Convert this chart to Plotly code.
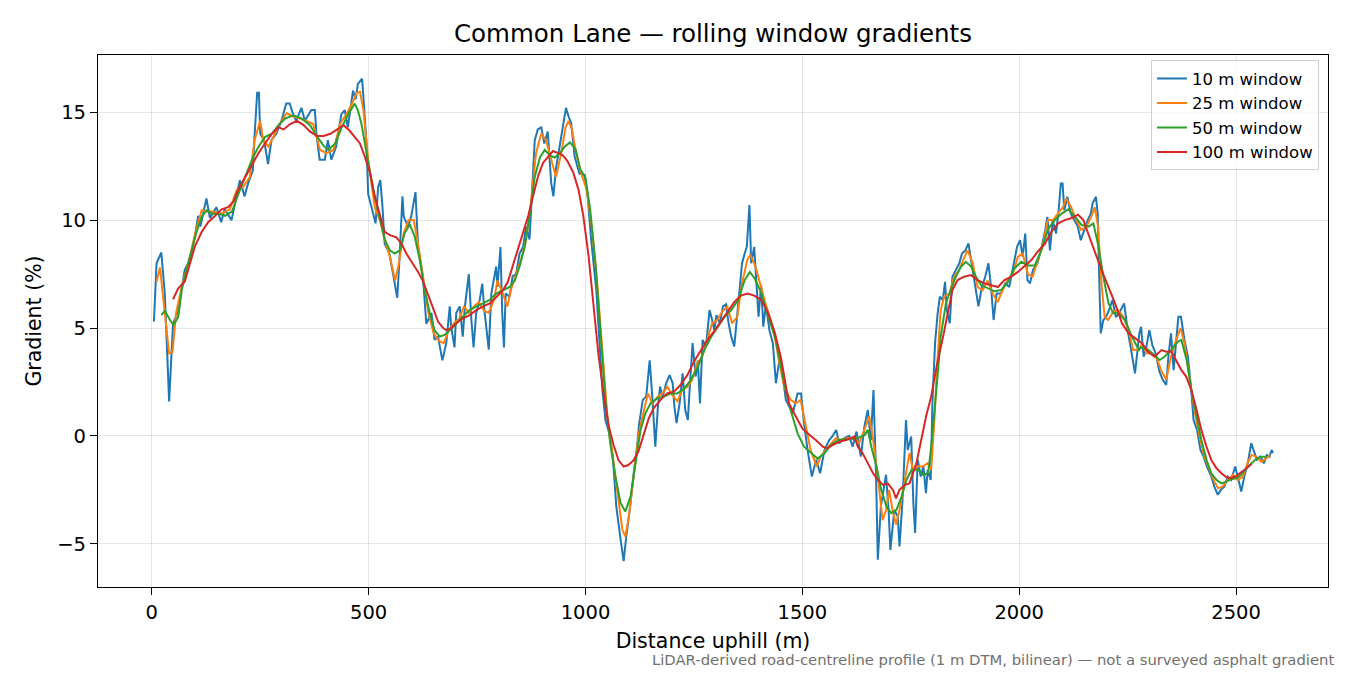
import plotly.graph_objects as go

# distance uphill (m) / gradient (%), one pair of lists per window
dist_10 = [5, 11, 22, 30, 40, 49, 61, 72, 76, 88, 99, 107, 112, 126, 134, 149, 160, 168, 184, 203,
           214, 222, 233, 237, 243, 247, 250, 259, 268, 276, 287, 299, 310, 318, 326, 333, 345, 353, 368, 376,
           380, 387, 399, 406, 414, 425, 437, 445, 452, 464, 470, 475, 485, 489, 495, 499, 506, 516, 522, 527,
           532, 537, 548, 556, 566, 571, 578, 581, 591, 598, 605, 608, 614, 625, 633, 645, 652, 660, 670, 679,
           687, 690, 698, 702, 710, 717, 722, 731, 737, 742, 748, 756, 762, 767, 777, 783, 794, 797, 804, 808,
           812, 816, 825, 832, 840, 848, 856, 863, 871, 877, 883, 890, 898, 905, 913, 921, 926, 932, 940, 948,
           955, 961, 967, 975, 986, 998, 1005, 1013, 1025, 1032, 1039, 1046, 1055, 1063, 1071, 1081, 1088, 1094, 1103, 1111,
           1118, 1124, 1132, 1140, 1148, 1154, 1161, 1167, 1172, 1178, 1186, 1194, 1201, 1205, 1210, 1217, 1224, 1230, 1236, 1241,
           1247, 1254, 1259, 1264, 1270, 1278, 1286, 1292, 1297, 1302, 1310, 1317, 1324, 1330, 1336, 1343, 1349, 1355, 1361, 1367,
           1372, 1378, 1382, 1389, 1395, 1399, 1405, 1410, 1416, 1424, 1432, 1439, 1447, 1451, 1462, 1478, 1489, 1497, 1505, 1512,
           1522, 1532, 1541, 1551, 1562, 1570, 1578, 1585, 1597, 1608, 1616, 1625, 1635, 1643, 1651, 1658, 1664, 1670, 1674, 1681,
           1693, 1699, 1703, 1712, 1720, 1724, 1731, 1739, 1743, 1751, 1756, 1760, 1766, 1773, 1779, 1785, 1789, 1796, 1800, 1806,
           1812, 1817, 1824, 1829, 1833, 1840, 1846, 1854, 1862, 1868, 1876, 1883, 1891, 1899, 1906, 1914, 1922, 1929, 1935, 1941,
           1948, 1958, 1968, 1977, 1986, 1995, 2002, 2008, 2014, 2019, 2025, 2032, 2042, 2052, 2060, 2065, 2071, 2077, 2085, 2091,
           2096, 2100, 2104, 2111, 2119, 2127, 2135, 2142, 2150, 2158, 2165, 2169, 2177, 2181, 2184, 2188, 2194, 2200, 2207, 2215,
           2223, 2230, 2242, 2250, 2257, 2267, 2277, 2281, 2287, 2292, 2300, 2307, 2315, 2323, 2331, 2339, 2344, 2350, 2356, 2361,
           2367, 2373, 2381, 2389, 2396, 2402, 2410, 2418, 2425, 2433, 2443, 2450, 2458, 2465, 2473, 2481, 2489, 2498, 2505, 2512,
           2519, 2527, 2535, 2541, 2548, 2556, 2564, 2571, 2577, 2582, 2585]
grad_10 = [5.3, 8.0, 8.5, 6.6, 1.6, 5.2, 5.8, 7.2, 7.7, 8.15, 9.2, 10.2, 9.7, 11.0, 10.1, 10.6, 9.9, 10.5, 10.0, 11.85,
           11.1, 11.7, 12.3, 13.9, 15.9, 15.9, 14.0, 13.7, 12.6, 13.7, 14.0, 14.6, 15.4, 15.4, 14.9, 14.6, 15.2, 14.6, 15.1, 15.1,
           13.9, 12.8, 12.8, 13.7, 12.8, 13.4, 14.9, 15.1, 14.3, 16.0, 15.6, 16.3, 16.55, 15.4, 13.55, 11.2, 10.6, 9.85, 11.55, 11.85,
           10.6, 8.9, 8.45, 7.5, 6.4, 8.15, 11.1, 10.15, 9.7, 10.15, 11.1, 11.3, 8.75, 7.4, 5.2, 5.7, 4.45, 4.6, 3.5, 4.3,
           6.0, 5.1, 4.1, 5.7, 6.0, 4.6, 6.0, 7.5, 5.35, 4.1, 5.7, 6.3, 7.05, 5.8, 4.0, 6.6, 7.85, 6.9, 8.75, 5.7,
           4.1, 6.6, 6.45, 7.4, 7.5, 8.45, 8.75, 9.7, 9.1, 11.2, 13.7, 14.2, 14.3, 13.55, 14.1, 11.7, 11.1, 12.4, 13.4, 14.4,
           15.2, 14.8, 14.5, 12.95, 12.15, 12.1, 11.1, 9.1, 6.75, 4.45, 2.13, 0.74, 0.12, -0.96, -3.27, -4.8, -5.8, -4.66, -3.27, -1.73,
           -0.65, 0.59, 1.67, 1.82, 3.5, 1.82, -0.5, 1.36, 2.28, 1.82, 2.44, 2.82, 2.44, 1.36, 0.59, 1.51, 2.9, 1.2, 0.74, 2.44,
           4.3, 2.75, 3.5, 1.51, 4.45, 4.14, 5.83, 5.37, 4.9, 5.6, 5.22, 6.0, 6.1, 5.22, 4.6, 4.14, 5.52, 6.76, 8.0, 8.45,
           8.76, 10.7, 8.0, 8.76, 6.76, 5.52, 7.0, 5.06, 6.1, 4.9, 4.3, 2.44, 3.5, 3.37, 1.67, 1.05, 1.97, 1.97, 0.43, -0.65,
           -1.88, -1.1, -1.73, -0.65, -0.19, 0.0, 0.28, -0.34, -0.1, 0.0, -0.5, 0.2, -0.96, 0.43, 1.2, -0.19, 2.13, -1.88, -5.74, -3.27,
           -1.8, -3.5, -5.28, -3.43, -3.73, -5.12, -2.96, 0.74, -0.65, -0.03, -3.12, -4.5, -1.1, -1.88, -1.4, -2.65, -1.57, -2.04, 1.6, 4.3,
           5.68, 6.45, 6.3, 7.14, 5.83, 5.22, 7.38, 7.7, 8.0, 8.45, 8.6, 8.92, 7.9, 7.07, 6.0, 6.9, 7.4, 8.0, 6.9, 5.37,
           6.6, 6.6, 7.07, 6.9, 7.9, 8.76, 9.07, 8.3, 9.38, 7.22, 7.07, 7.7, 8.0, 8.76, 9.54, 10.15, 8.6, 10.0, 9.38, 10.46,
           11.7, 11.7, 10.46, 11.08, 10.3, 10.0, 9.7, 9.07, 9.54, 10.0, 10.3, 10.77, 11.08, 10.3, 7.68, 4.75, 5.37, 5.5, 5.83, 6.3,
           5.5, 5.68, 6.14, 4.9, 4.1, 2.9, 4.75, 5.06, 3.67, 4.0, 4.9, 4.2, 3.8, 3.0, 2.6, 2.36, 3.67, 4.75, 3.05, 4.3,
           5.52, 5.52, 4.45, 3.67, 2.28, 0.74, 0.28, -0.65, -0.96, -1.42, -1.88, -2.35, -2.73, -2.5, -2.35, -1.88, -2.04, -1.42, -2.04, -2.58,
           -1.88, -1.27, -0.34, -0.65, -1.1, -0.96, -1.27, -0.88, -0.96, -0.65, -0.8]

dist_25 = [11, 19, 30, 40, 48, 56, 69, 88, 99, 115, 126, 141, 160, 180, 196, 211, 226, 237, 250, 257,
           269, 280, 296, 311, 326, 342, 357, 372, 388, 403, 419, 434, 450, 462, 472, 480, 488, 499, 507, 514,
           526, 537, 549, 561, 568, 581, 592, 604, 615, 627, 638, 650, 662, 673, 685, 697, 708, 720, 731, 743,
           754, 766, 777, 789, 797, 809, 820, 828, 840, 851, 863, 874, 886, 898, 909, 921, 932, 944, 954, 961,
           969, 977, 988, 1003, 1015, 1027, 1038, 1050, 1061, 1073, 1085, 1092, 1100, 1112, 1123, 1135, 1144, 1154, 1166, 1177,
           1189, 1200, 1212, 1223, 1235, 1246, 1258, 1269, 1281, 1292, 1304, 1315, 1327, 1338, 1350, 1361, 1373, 1380, 1392, 1404,
           1415, 1427, 1439, 1445, 1458, 1473, 1485, 1496, 1508, 1519, 1533, 1542, 1554, 1566, 1577, 1589, 1604, 1620, 1631, 1643,
           1654, 1662, 1674, 1685, 1693, 1700, 1708, 1716, 1724, 1731, 1739, 1747, 1755, 1766, 1778, 1789, 1797, 1805, 1810, 1819,
           1827, 1839, 1850, 1862, 1874, 1881, 1893, 1904, 1916, 1927, 1939, 1950, 1962, 1973, 1985, 1997, 2008, 2020, 2031, 2043,
           2055, 2066, 2078, 2089, 2101, 2108, 2120, 2131, 2143, 2155, 2166, 2174, 2182, 2189, 2197, 2205, 2217, 2228, 2240, 2252,
           2263, 2275, 2284, 2293, 2304, 2316, 2327, 2339, 2350, 2362, 2372, 2381, 2393, 2404, 2416, 2427, 2439, 2450, 2459, 2469,
           2481, 2493, 2504, 2516, 2526, 2536, 2546, 2558, 2569, 2579]
grad_25 = [7.14, 7.8, 5.7, 3.83, 3.9, 5.7, 6.9, 8.3, 9.3, 10.46, 10.4, 10.4, 10.3, 10.5, 11.4, 11.55, 12.0, 13.7, 14.6, 13.7,
           13.4, 13.85, 14.5, 14.95, 14.8, 14.7, 14.6, 14.45, 13.25, 13.1, 13.25, 14.45, 14.95, 15.4, 15.9, 15.95, 15.1, 12.8, 11.55, 10.6,
           10.0, 9.1, 8.3, 7.2, 7.8, 9.4, 10.0, 10.0, 8.76, 7.2, 5.68, 4.75, 4.4, 4.3, 4.9, 5.22, 5.4, 6.0, 5.7, 6.0,
           6.2, 5.8, 5.7, 6.3, 7.2, 6.6, 6.0, 6.76, 7.5, 8.15, 9.1, 10.77, 13.1, 14.0, 13.7, 12.8, 12.0, 13.1, 14.3, 14.6,
           14.2, 13.25, 12.3, 11.4, 9.57, 7.1, 4.0, 1.05, -0.65, -2.5, -4.35, -4.66, -3.73, -1.73, 0.12, 1.2, 1.97, 1.51, 1.82, 1.97,
           2.28, 1.9, 1.6, 2.13, 2.28, 2.6, 3.37, 3.67, 4.45, 5.22, 5.37, 5.76, 6.0, 5.22, 5.52, 7.07, 8.15, 8.4, 7.85, 6.9,
           6.14, 5.37, 4.3, 3.6, 2.28, 1.67, 1.51, 1.67, 0.43, -0.65, -1.42, -0.96, -0.65, -0.34, -0.1, -0.19, -0.1, -0.1, -0.34, 0.28,
           0.9, 0.0, -1.88, -3.9, -3.43, -2.5, -3.43, -4.1, -3.43, -2.65, -1.73, -0.8, -1.57, -1.42, -1.42, -1.26, -1.57, 0.9, 3.0, 5.83,
           6.45, 6.6, 7.38, 7.7, 8.3, 8.6, 8.0, 6.9, 6.76, 7.2, 6.6, 6.2, 6.76, 7.2, 7.5, 8.3, 8.45, 7.5, 7.38, 8.15,
           8.9, 10.0, 10.0, 10.3, 10.6, 11.0, 10.6, 10.0, 9.54, 9.7, 10.15, 10.6, 9.7, 7.22, 5.52, 5.37, 5.76, 5.83, 5.52, 4.9,
           3.98, 3.98, 4.3, 3.83, 3.83, 3.67, 3.05, 2.6, 3.67, 4.45, 5.0, 4.3, 2.75, 1.2, -0.03, -0.96, -1.57, -2.12, -2.43, -2.35,
           -2.04, -1.8, -2.04, -1.88, -1.27, -0.88, -0.96, -1.2, -1.05, -0.88]

dist_50 = [22, 30, 42, 50, 61, 69, 81, 92, 104, 115, 127, 138, 154, 169, 185, 200, 215, 231, 246, 261,
           277, 292, 307, 327, 346, 365, 380, 396, 407, 423, 438, 453, 468, 475, 483, 491, 502, 514, 526, 537,
           549, 560, 572, 583, 595, 606, 618, 629, 641, 652, 664, 675, 687, 702, 717, 733, 748, 764, 779, 794,
           810, 825, 837, 848, 860, 872, 883, 895, 906, 918, 929, 941, 952, 964, 977, 988, 1000, 1011, 1023, 1034,
           1046, 1057, 1069, 1081, 1092, 1104, 1115, 1127, 1138, 1150, 1166, 1181, 1197, 1212, 1228, 1243, 1259, 1274, 1290, 1305,
           1321, 1336, 1352, 1367, 1379, 1390, 1406, 1421, 1437, 1450, 1458, 1473, 1489, 1504, 1520, 1535, 1551, 1566, 1582, 1597,
           1613, 1628, 1644, 1651, 1659, 1671, 1682, 1694, 1705, 1717, 1729, 1740, 1752, 1767, 1779, 1790, 1798, 1806, 1813, 1819,
           1831, 1842, 1854, 1866, 1877, 1889, 1900, 1912, 1927, 1943, 1958, 1974, 1989, 2005, 2020, 2036, 2051, 2067, 2082, 2098,
           2113, 2129, 2144, 2160, 2171, 2183, 2194, 2206, 2217, 2229, 2244, 2260, 2276, 2281, 2297, 2312, 2324, 2335, 2351, 2366,
           2374, 2386, 2397, 2409, 2420, 2432, 2443, 2455, 2466, 2478, 2489, 2501, 2512, 2524, 2536, 2547, 2559, 2570]
grad_50 = [5.6, 5.8, 5.37, 5.14, 5.5, 6.76, 7.8, 8.6, 9.5, 10.15, 10.46, 10.3, 10.3, 10.2, 10.4, 11.23, 12.0, 12.8, 13.4, 13.85,
           14.0, 14.4, 14.7, 14.85, 14.7, 14.4, 13.9, 13.45, 13.25, 13.55, 14.3, 14.9, 15.4, 15.1, 14.5, 13.55, 12.35, 11.1, 10.0, 9.1,
           8.6, 8.45, 8.6, 9.4, 9.8, 9.25, 8.15, 6.76, 5.7, 4.9, 4.6, 4.68, 4.9, 5.22, 5.52, 5.83, 6.0, 6.14, 6.3, 6.6,
           6.76, 6.9, 7.2, 7.85, 8.76, 10.3, 12.0, 12.9, 13.25, 13.0, 12.9, 13.1, 13.4, 13.6, 13.3, 12.35, 11.97, 10.46, 8.0, 4.75,
           1.67, -0.34, -1.88, -3.12, -3.5, -2.8, -1.26, 0.28, 1.05, 1.51, 1.75, 1.82, 1.97, 1.97, 2.2, 2.6, 3.2, 3.98, 4.6, 5.06,
           5.52, 5.83, 6.3, 7.22, 7.6, 7.3, 6.6, 5.52, 4.6, 3.3, 2.44, 1.2, 0.12, -0.5, -0.8, -1.05, -0.8, -0.42, -0.19, -0.15,
           -0.15, -0.1, 0.05, 0.28, -0.5, -1.42, -2.5, -3.27, -3.58, -3.43, -2.8, -2.04, -1.57, -1.57, -1.8, -1.73, -0.34, 1.36, 3.05, 4.6,
           6.14, 6.76, 7.38, 7.85, 8.07, 7.85, 7.38, 6.99, 6.84, 6.7, 6.76, 7.14, 7.76, 8.07, 7.9, 7.9, 8.6, 9.6, 10.0, 10.3,
           10.5, 10.15, 9.77, 9.7, 9.85, 8.76, 7.38, 6.14, 5.68, 5.68, 5.37, 4.6, 3.98, 4.1, 4.0, 3.75, 3.52, 3.67, 4.0, 4.37,
           4.45, 3.52, 2.13, 0.9, -0.19, -1.12, -1.73, -2.04, -2.2, -2.12, -2.0, -1.96, -1.8, -1.5, -1.27, -1.05, -0.96, -0.96]

dist_100 = [49, 61, 76, 88, 99, 115, 130, 146, 161, 176, 188, 199, 215, 230, 246, 261, 277, 292, 304, 319,
            335, 350, 365, 381, 396, 412, 427, 442, 456, 469, 480, 491, 503, 514, 526, 537, 549, 564, 576, 587,
            599, 614, 626, 637, 649, 660, 672, 679, 691, 702, 718, 733, 748, 764, 779, 795, 810, 821, 833, 845,
            856, 868, 879, 891, 902, 914, 925, 937, 948, 958, 972, 984, 995, 1007, 1019, 1030, 1042, 1053, 1065, 1076,
            1088, 1099, 1111, 1122, 1134, 1146, 1157, 1173, 1188, 1204, 1219, 1235, 1250, 1265, 1281, 1296, 1312, 1327, 1343, 1358,
            1374, 1389, 1405, 1420, 1436, 1451, 1460, 1469, 1485, 1500, 1516, 1531, 1547, 1558, 1570, 1585, 1601, 1620, 1628, 1639,
            1651, 1663, 1674, 1686, 1697, 1709, 1716, 1724, 1736, 1747, 1763, 1774, 1786, 1797, 1811, 1823, 1835, 1846, 1858, 1873,
            1889, 1904, 1920, 1935, 1951, 1966, 1982, 1997, 2012, 2028, 2043, 2059, 2074, 2090, 2105, 2121, 2136, 2148, 2159, 2175,
            2190, 2206, 2221, 2237, 2252, 2268, 2283, 2297, 2312, 2328, 2339, 2351, 2362, 2374, 2385, 2397, 2409, 2420, 2432, 2443,
            2455, 2466, 2478, 2489, 2501, 2512, 2524, 2536]
grad_100 = [6.33, 6.84, 7.14, 8.0, 8.76, 9.45, 9.9, 10.2, 10.5, 10.6, 10.85, 11.4, 12.0, 12.55, 13.1, 13.55, 14.0, 14.3, 14.2, 14.45,
            14.6, 14.4, 14.1, 13.9, 13.9, 14.0, 14.2, 14.4, 14.15, 13.8, 13.55, 12.95, 12.2, 11.1, 10.2, 9.45, 9.3, 9.2, 8.9, 8.45,
            8.07, 7.6, 7.14, 6.5, 5.9, 5.3, 5.0, 4.9, 5.0, 5.22, 5.45, 5.6, 5.83, 6.0, 6.14, 6.45, 6.76, 7.14, 7.9, 8.7,
            9.45, 10.2, 11.1, 12.05, 12.65, 12.95, 13.2, 13.1, 13.0, 12.75, 12.2, 11.4, 10.2, 8.36, 6.05, 3.75, 1.9, 0.5, -0.43, -1.12,
            -1.42, -1.35, -1.12, -0.73, 0.05, 0.82, 1.28, 1.67, 1.97, 2.05, 2.36, 2.82, 3.44, 3.9, 4.45, 4.83, 5.3, 5.75, 6.2, 6.5,
            6.6, 6.5, 6.3, 5.75, 4.83, 3.6, 2.5, 1.51, 0.9, 0.35, 0.05, -0.19, -0.5, -0.57, -0.42, -0.27, -0.19, -0.03, -0.5, -0.8,
            -1.26, -1.73, -2.04, -2.27, -2.2, -2.5, -2.89, -2.5, -2.27, -2.2, -1.26, -0.19, 0.97, 1.82, 3.37, 4.45, 5.68, 6.76, 7.22, 7.38,
            7.45, 7.22, 7.07, 6.99, 6.9, 7.22, 7.38, 7.6, 7.85, 8.15, 8.55, 8.9, 9.45, 9.85, 10.0, 10.1, 10.25, 10.0, 9.38, 8.45,
            7.68, 6.9, 6.14, 5.22, 4.75, 4.52, 4.3, 3.9, 3.67, 3.98, 3.9, 3.9, 3.52, 3.05, 2.75, 2.13, 1.2, 0.28, -0.5, -1.12,
            -1.5, -1.73, -1.92, -1.96, -1.85, -1.7, -1.5, -1.3]

series = [
    ("10 m window", dist_10, grad_10, "#1f77b4"),
    ("25 m window", dist_25, grad_25, "#ff7f0e"),
    ("50 m window", dist_50, grad_50, "#2ca02c"),
    ("100 m window", dist_100, grad_100, "#d62728"),
]

FONT = "DejaVu Sans"

fig = go.Figure()
for name, xs, ys, colour in series:
    fig.add_trace(go.Scatter(
        x=xs, y=ys, mode="lines", name=name,
        line=dict(color=colour, width=2)
    ))

axis_style = dict(
    showline=True, linecolor="black", linewidth=1.2, mirror=True,
    ticks="outside", ticklen=7, tickcolor="black", tickwidth=1.2,
    showgrid=True, gridcolor="rgba(0,0,0,0.1)", gridwidth=1,
    zeroline=False, tickfont=dict(family=FONT, size=19.5, color="black"),
)

# the page body adds an 8 px offset, so the figure is 8 px smaller than the window
fig.update_layout(
    width=1342, height=667,
    margin=dict(l=90, r=22, t=47, b=88),
    paper_bgcolor="white", plot_bgcolor="white",
    font=dict(family=FONT, color="black"),
    title=dict(text="Common Lane — rolling window gradients", xref="paper", x=0.5, xanchor="center",
               y=0.9625, yanchor="middle", font=dict(family=FONT, size=24.5)),
    legend=dict(x=0.9927, y=0.99, xanchor="right", yanchor="top",
                bgcolor="rgba(255,255,255,0.8)", bordercolor="#d0d0d0", borderwidth=1,
                font=dict(family=FONT, size=16.5), tracegroupgap=0),
    showlegend=True,
)

fig.update_xaxes(axis_style, range=[-124, 2712], tickvals=[0, 500, 1000, 1500, 2000, 2500],
                 title=dict(text="Distance uphill (m)", font=dict(family=FONT, size=20.5), standoff=11))
fig.update_yaxes(axis_style, range=[-7.0, 17.65], tickvals=[-5, 0, 5, 10, 15],
                 ticktext=["\u22125", "0", "5", "10", "15"],
                 title=dict(text="Gradient (%)", font=dict(family=FONT, size=20.5), standoff=10))

# footnote under the x-axis, right side
fig.add_annotation(
    text="LiDAR-derived road-centreline profile (1 m DTM, bilinear) — not a surveyed asphalt gradient",
    xref="paper", yref="paper", x=1.0065, y=-0.137, xanchor="right", yanchor="middle",
    showarrow=False, font=dict(family=FONT, size=14.8, color="#707070")
)

fig.write_html("out.html")
